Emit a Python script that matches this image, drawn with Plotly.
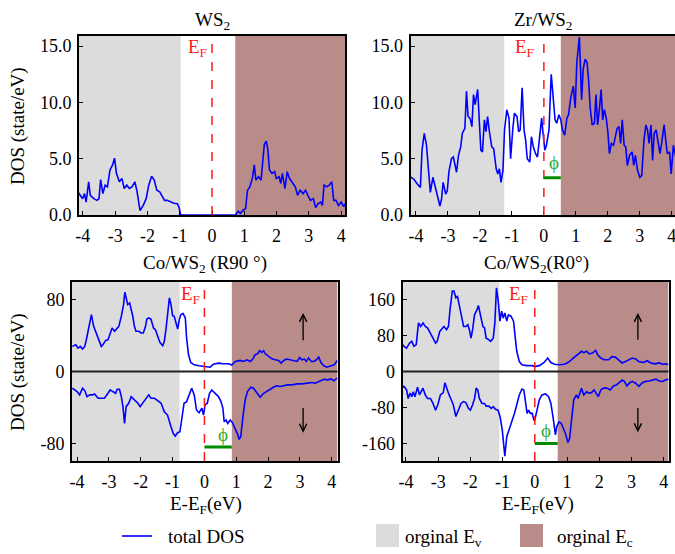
import plotly.graph_objects as go
from plotly.subplots import make_subplots

# ---------------- data ----------------
titles = ["WS<sub>2</sub>", "Zr/WS<sub>2</sub>", "Co/WS<sub>2</sub> (R90 °)", "Co/WS<sub>2</sub>(R0°)"]
x_ticks = [-4, -3, -2, -1, 0, 1, 2, 3, 4]
x_tick_labels = ["-4", "-3", "-2", "-1", "0", "1", "2", "3", "4"]
top_y_ticks = [0, 5, 10, 15]
top_y_labels = ["0.0", "5.0", "10.0", "15.0"]
r90_y_ticks = [-80, 0, 80]
r0_y_ticks = [-160, -80, 0, 80, 160]

ev_edge = [-0.97, -1.24, -0.78, -1.1]   # original valence band edge per panel
ec_edge = [0.72, 0.53, 0.86, 0.71]      # original conduction band edge per panel

ws2_x = [-4.19, -4.08, -4.01, -3.95, -3.90, -3.82, -3.77, -3.66, -3.56, -3.50, -3.45, -3.38, -3.31, -3.24,
         -3.16, -3.08, -3.02, -2.96, -2.87, -2.79, -2.72, -2.64, -2.56, -2.48, -2.39, -2.32, -2.23, -2.13,
         -2.04, -1.96, -1.87, -1.79, -1.71, -1.62, -1.55, -1.47, -1.39, -1.28, -1.18, -1.07, -1.02, -0.97,
         0.73, 0.81, 0.88, 0.97, 1.04, 1.10, 1.17, 1.25, 1.31, 1.36, 1.44, 1.52, 1.57, 1.62, 1.68, 1.73,
         1.78, 1.86, 1.94, 1.99, 2.08, 2.13, 2.18, 2.26, 2.33, 2.40, 2.47, 2.58, 2.65, 2.73, 2.82, 2.90,
         2.97, 3.05, 3.14, 3.21, 3.28, 3.37, 3.42, 3.47, 3.56, 3.63, 3.71, 3.77, 3.84, 3.92, 4.00, 4.08, 4.16]
ws2_dos = [2.2, 1.75, 1.45, 1.9, 1.15, 2.95, 1.75, 1.45, 1.3, 1.45, 3.15, 1.9, 2.65, 2.5,
           4.0, 4.45, 5.05, 3.7, 2.95, 3.25, 2.35, 2.65, 2.35, 2.5, 2.95, 2.05, 0.4, 0.85,
           1.45, 2.65, 3.45, 3.1, 2.2, 2.05, 1.75, 1.3, 1.3, 1.15, 1.05, 1.0, 0.65, 0.0,
           0.0, 0.33, 0.15, 0.45, 0.55, 2.2, 2.5, 3.25, 4.45, 3.1, 3.4, 3.1, 4.6, 6.25, 6.55, 5.8,
           4.0, 3.7, 3.85, 3.25, 3.4, 2.8, 3.7, 2.35, 3.85, 3.25, 2.95, 2.5, 1.75, 2.2, 1.9, 2.2,
           1.75, 1.3, 1.45, 0.65, 1.0, 1.15, 0.85, 2.65, 2.5, 2.65, 2.95, 1.3, 1.3, 0.85, 1.15, 0.75, 1.15]

zr_x = [-4.18, -4.07, -3.97, -3.86, -3.81, -3.74, -3.67, -3.60, -3.55, -3.47, -3.39, -3.34, -3.25, -3.20,
        -3.15, -3.07, -3.02, -2.97, -2.89, -2.83, -2.78, -2.73, -2.67, -2.60, -2.55, -2.47, -2.42, -2.37,
        -2.31, -2.25, -2.20, -2.15, -2.07, -2.02, -1.97, -1.92, -1.86, -1.81, -1.76, -1.71, -1.63, -1.57,
        -1.49, -1.44, -1.39, -1.34, -1.28, -1.23, -1.16, -1.09, -1.04, -0.97, -0.92, -0.84, -0.79, -0.74,
        -0.68, -0.62, -0.57, -0.52, -0.44, -0.39, -0.33, -0.26, -0.20, -0.13, -0.07, -0.03, 0.03, 0.08,
        0.16, 0.23, 0.28, 0.35, 0.40, 0.47, 0.53, 0.58, 0.65, 0.72, 0.77, 0.84, 0.92, 0.98, 1.03, 1.11,
        1.18, 1.23, 1.29, 1.35, 1.40, 1.45, 1.51, 1.58, 1.63, 1.68, 1.74, 1.79, 1.84, 1.89, 1.95, 2.00,
        2.05, 2.11, 2.18, 2.24, 2.29, 2.35, 2.40, 2.45, 2.51, 2.56, 2.61, 2.68, 2.76, 2.81, 2.86, 2.93,
        3.00, 3.06, 3.13, 3.19, 3.24, 3.29, 3.35, 3.40, 3.45, 3.51, 3.58, 3.63, 3.68, 3.76, 3.81, 3.86,
        3.93, 3.98, 4.05, 4.10, 4.15]
zr_dos = [3.4, 3.2, 2.8, 2.45, 5.75, 7.25, 6.2, 3.95, 2.0, 3.35, 2.45, 1.65, 0.8, 1.4,
          2.9, 1.85, 2.15, 3.8, 5.0, 5.15, 4.55, 3.8, 5.3, 6.05, 7.25, 7.7, 11.0, 8.75,
          8.6, 7.85, 10.7, 9.8, 11.15, 8.3, 5.75, 5.6, 8.45, 7.4, 8.75, 7.55, 6.05, 5.9,
          4.1, 3.65, 4.1, 2.9, 3.95, 7.55, 9.35, 8.6, 5.0, 7.7, 9.05, 8.75, 7.4, 7.55,
          11.3, 7.55, 6.65, 5.0, 4.7, 6.95, 6.05, 5.45, 5.15, 7.0, 8.6, 7.4, 5.75, 6.2,
          7.55, 12.5, 10.55, 8.45, 8.15, 8.9, 8.45, 7.55, 7.1, 8.6, 8.9, 10.4, 11.45, 9.5, 13.55, 15.8,
          10.25, 12.95, 13.85, 13.55, 11.9, 9.5, 8.0, 8.15, 10.7, 8.0, 9.5, 11.15, 8.45, 9.35, 8.6, 7.4,
          5.45, 6.35, 6.2, 6.95, 7.7, 7.85, 6.35, 8.45, 6.2, 6.05, 4.4, 5.3, 5.6, 4.4, 5.3, 3.95,
          3.35, 3.5, 6.65, 8.0, 7.55, 6.35, 8.0, 4.85, 7.25, 7.55, 6.05, 5.45, 6.35, 8.0, 6.65, 5.45,
          5.6, 3.65, 6.2, 5.45, 4.8]

r90_x_up = [-4.15, -4.04, -3.97, -3.90, -3.83, -3.76, -3.71, -3.63, -3.55, -3.48, -3.40, -3.31, -3.24, -3.19,
            -3.10, -3.03, -2.96, -2.90, -2.82, -2.77, -2.69, -2.61, -2.54, -2.50, -2.46, -2.41, -2.35, -2.30,
            -2.25, -2.20, -2.15, -2.06, -1.99, -1.92, -1.85, -1.81, -1.75, -1.68, -1.60, -1.54, -1.47, -1.40,
            -1.31, -1.26, -1.21, -1.16, -1.10, -1.05, -1.00, -0.95, -0.90, -0.84, -0.79, -0.74, -0.67, -0.60,
            -0.56, -0.50, -0.43, -0.32, -0.17, -0.02, 0.18, 0.28, 0.44, 0.60, 0.76, 0.86, 0.97, 1.12, 1.23,
            1.33, 1.44, 1.52, 1.59, 1.67, 1.73, 1.80, 1.86, 1.91, 2.01, 2.12, 2.22, 2.33, 2.41, 2.49, 2.59,
            2.70, 2.80, 2.91, 2.99, 3.06, 3.14, 3.20, 3.27, 3.36, 3.43, 3.52, 3.59, 3.66, 3.75, 3.85, 3.98,
            4.08, 4.17]
r90_up = [27.9, 29.8, 26.0, 27.9, 24.9, 27.9, 35.3, 50.2, 63.3, 50.2, 42.8, 33.5, 27.9, 29.8,
          34.6, 35.3, 42.8, 48.4, 44.7, 46.5, 50.2, 61.4, 74.4, 88.2, 80.0, 74.4, 76.3, 68.8,
          61.4, 50.2, 44.7, 44.7, 42.8, 42.8, 50.2, 58.4, 59.5, 58.4, 48.4, 46.5, 39.1, 32.4,
          28.7, 33.5, 46.5, 65.1, 81.9, 74.4, 62.1, 61.4, 54.0, 47.3, 57.7, 63.3, 64.4, 59.5,
          37.2, 18.6, 10.0, 7.4, 6.3, 5.6, 4.8, 8.2, 9.3, 8.6, 8.6, 7.1, 11.2, 12.3, 11.2,
          13.0, 11.2, 13.8, 18.6, 19.7, 23.1, 21.2, 23.1, 19.7, 16.7, 14.1, 13.0, 12.3, 9.3, 12.3, 13.8,
          13.0, 11.9, 11.2, 15.6, 13.0, 13.8, 11.2, 14.9, 11.2, 11.2, 13.0, 16.0, 10.0, 6.3, 4.8, 6.3,
          7.4, 12.3]
r90_x_dn = [-4.15, -4.07, -4.00, -3.92, -3.83, -3.76, -3.69, -3.60, -3.52, -3.45, -3.34, -3.24, -3.14, -3.03,
            -2.96, -2.88, -2.79, -2.74, -2.67, -2.61, -2.56, -2.51, -2.46, -2.38, -2.30, -2.20, -2.09, -2.02,
            -1.94, -1.83, -1.75, -1.68, -1.57, -1.47, -1.36, -1.26, -1.16, -1.05, -0.98, -0.92, -0.84, -0.77,
            -0.69, -0.64, -0.56, -0.48, -0.40, -0.32, -0.25, -0.17, -0.08, -0.03, 0.02, 0.09, 0.16, 0.23,
            0.34, 0.44, 0.52, 0.58, 0.62, 0.68, 0.73, 0.81, 0.88, 0.97, 1.04, 1.09, 1.14, 1.21, 1.28, 1.35,
            1.46, 1.54, 1.65, 1.75, 1.86, 1.96, 2.07, 2.17, 2.26, 2.38, 2.49, 2.61, 2.75, 2.91, 3.06, 3.22,
            3.38, 3.48, 3.59, 3.75, 3.87, 3.98, 4.06, 4.17]
r90_dn = [-18.6, -20.5, -22.3, -26.0, -18.6, -21.2, -27.9, -26.0, -26.0, -24.9, -29.8, -29.8, -29.8, -24.2,
          -20.5, -22.3, -24.2, -19.7, -19.7, -27.9, -39.1, -57.7, -39.1, -35.3, -27.9, -31.6, -35.3, -39.1,
          -35.3, -29.8, -26.0, -29.8, -29.8, -32.4, -35.3, -44.7, -48.4, -61.4, -68.8, -71.8, -68.1, -67.0,
          -46.5, -35.3, -33.5, -26.0, -18.6, -26.0, -42.8, -45.8, -40.9, -48.4, -37.2, -35.3, -24.2, -20.5,
          -24.2, -27.9, -33.5, -40.9, -55.8, -54.0, -57.7, -54.0, -56.9, -63.3, -69.6, -75.5, -72.6, -50.2, -31.6, -22.3,
          -17.5, -18.6, -24.2, -28.7, -24.2, -21.6, -19.7, -17.5, -16.0, -16.7, -16.0, -14.9, -14.9, -13.8, -13.8, -13.0,
          -12.3, -13.0, -11.2, -8.6, -9.3, -8.2, -10.4, -7.4]

r0_x_up = [-4.21, -4.14, -4.06, -3.98, -3.89, -3.82, -3.75, -3.68, -3.61, -3.54, -3.47, -3.40, -3.33, -3.24,
           -3.16, -3.08, -3.03, -2.95, -2.87, -2.82, -2.74, -2.68, -2.63, -2.56, -2.51, -2.45, -2.40, -2.35,
           -2.27, -2.21, -2.14, -2.08, -2.03, -1.98, -1.93, -1.87, -1.79, -1.75, -1.68, -1.61, -1.56, -1.51,
           -1.43, -1.37, -1.29, -1.24, -1.19, -1.14, -1.08, -1.03, -0.98, -0.93, -0.87, -0.82, -0.74, -0.66,
           -0.61, -0.56, -0.48, -0.40, -0.25, -0.08, 0.00, 0.14, 0.29, 0.40, 0.50, 0.61, 0.77, 0.92, 1.03,
           1.13, 1.24, 1.34, 1.45, 1.52, 1.61, 1.69, 1.79, 1.89, 1.95, 2.05, 2.15, 2.29, 2.39, 2.50, 2.60,
           2.71, 2.81, 2.94, 3.02, 3.13, 3.23, 3.37, 3.49, 3.60, 3.73, 3.86, 3.97, 4.07, 4.16]
r0_up = [67, 63, 56, 52, 63, 67, 56, 60, 108, 100, 108, 100, 97, 86,
         74, 63, 67, 89, 97, 100, 93, 100, 138, 179, 179, 164, 167, 149,
         123, 100, 100, 104, 93, 74, 93, 126, 138, 147, 123, 100, 97, 74,
         71, 67, 74, 108, 186, 160, 112, 134, 119, 130, 112, 126, 123, 112,
         78, 45, 22, 15, 13, 13, 11, 13, 20, 30, 20, 16, 15, 16, 20,
         26, 32, 37, 45, 42, 45, 39, 41, 47, 37, 30, 26, 26, 33, 32, 26,
         19, 22, 26, 30, 28, 22, 20, 24, 19, 17, 19, 16, 17, 15]
r0_x_dn = [-4.21, -4.14, -4.06, -3.98, -3.93, -3.87, -3.82, -3.77, -3.72, -3.64, -3.58, -3.54, -3.47, -3.40,
           -3.33, -3.24, -3.16, -3.08, -3.01, -2.93, -2.84, -2.79, -2.72, -2.66, -2.61, -2.53, -2.45, -2.38,
           -2.29, -2.21, -2.14, -2.06, -2.00, -1.93, -1.87, -1.82, -1.77, -1.72, -1.64, -1.56, -1.51, -1.43,
           -1.35, -1.29, -1.22, -1.14, -1.08, -1.01, -0.96, -0.93, -0.87, -0.80, -0.72, -0.63, -0.56, -0.48,
           -0.40, -0.34, -0.29, -0.24, -0.19, -0.14, -0.08, -0.03, 0.00, 0.05, 0.14, 0.22, 0.33, 0.43, 0.50,
           0.58, 0.64, 0.68, 0.75, 0.82, 0.87, 0.95, 1.03, 1.08, 1.13, 1.21, 1.29, 1.34, 1.40, 1.45, 1.52,
           1.61, 1.69, 1.76, 1.84, 1.92, 1.97, 2.05, 2.13, 2.24, 2.34, 2.44, 2.53, 2.60, 2.71, 2.78, 2.86,
           2.95, 3.02, 3.13, 3.23, 3.34, 3.44, 3.55, 3.65, 3.76, 3.86, 3.97, 4.05, 4.16]
r0_dn = [-33, -37, -33, -41, -60, -48, -56, -45, -56, -35, -52, -45, -37, -52,
         -60, -60, -71, -86, -74, -52, -47, -25, -41, -52, -60, -74, -100, -86,
         -71, -67, -69, -82, -86, -74, -60, -37, -41, -60, -71, -71, -77, -77,
         -82, -78, -84, -86, -100, -130, -160, -188, -145, -130, -115, -93, -74, -52,
         -39, -41, -67, -93, -86, -93, -93, -108, -108, -93, -63, -52, -50, -56, -71,
         -108, -141, -123, -112, -115, -123, -138, -158, -149, -115, -63, -52, -60, -48, -37, -52,
         -45, -48, -47, -41, -52, -56, -41, -37, -37, -41, -32, -30, -26, -19, -22, -32,
         -25, -22, -26, -33, -25, -22, -21, -19, -17, -21, -22, -19, -17]

# ---------------- styling ----------------
FONT = "Liberation Serif"
BLUE = "#0000ff"
GREY = "#dcdcdc"
BROWN = "#b98c8a"
RED = "#ff1a1a"
GREEN = "#008c00"
PHI_GREEN = "#2fa82f"

W, H = 675, 554

def px_dom(a, b, total):
    return [a / total, b / total]

def py_dom(top, bottom):
    return [1 - bottom / H, 1 - top / H]

x_domains = [px_dom(79, 345, W), px_dom(410.5, 675, W), px_dom(72, 337.5, W), px_dom(402.7, 668.5, W)]
y_domains = [py_dom(36, 215), py_dom(36, 215), py_dom(282, 461), py_dom(282, 461)]
x_ranges = [[-4.12, 4.12], [-4.17, 4.1], [-4.16, 4.18], [-4.1, 4.15]]
y_ranges = [[0, 15.9], [0, 15.9], [-99.5, 99.5], [-199, 199]]

fig = make_subplots(rows=2, cols=2)

series = [
    [(ws2_x, ws2_dos)],
    [(zr_x, zr_dos)],
    [(r90_x_up, r90_up), (r90_x_dn, r90_dn)],
    [(r0_x_up, r0_up), (r0_x_dn, r0_dn)],
]
pos = [(1, 1), (1, 2), (2, 1), (2, 2)]
for i, (r, c) in enumerate(pos):
    for xs, ys in series[i]:
        fig.add_trace(go.Scatter(x=xs, y=ys, mode="lines", line=dict(color=BLUE, width=1.6),
                                 showlegend=False, hoverinfo="skip"), row=r, col=c)

axis_common = dict(showline=True, linecolor="black", linewidth=2, mirror=True, ticks="inside",
                   ticklen=4, tickwidth=1.2, tickcolor="black", showgrid=False, zeroline=False,
                   automargin=False, ticklabeloverflow="allow",
                   tickfont=dict(family=FONT, size=18, color="black"))

y_tick_sets = [(top_y_ticks, top_y_labels), (top_y_ticks, top_y_labels),
               (r90_y_ticks, [str(v) for v in r90_y_ticks]), (r0_y_ticks, [str(v) for v in r0_y_ticks])]

for i in range(4):
    xa = "xaxis" if i == 0 else f"xaxis{i+1}"
    ya = "yaxis" if i == 0 else f"yaxis{i+1}"
    fig.layout[xa].update(domain=x_domains[i], range=x_ranges[i], tickvals=x_ticks,
                          ticktext=x_tick_labels, ticklabelstandoff=3, **axis_common)
    fig.layout[ya].update(domain=y_domains[i], range=y_ranges[i], tickvals=y_tick_sets[i][0],
                          ticktext=y_tick_sets[i][1], ticklabelstandoff=2, **axis_common)

shapes = []
annotations = []
ef_label_pos = [(-0.46, 14.8), (-0.62, 14.8), (-0.45, 85), (-0.5, 170)]
phi_y = [3.3, 3.3, -84, -160]
phi_label = [None, (0.32, 4.7), (0.57, -70), (0.35, -132)]
arrow_spec = [None, None, (3.1, 33, 65, -39, -68), (3.2, 67, 130, -78, -135)]

for i in range(4):
    xr = "x" if i == 0 else f"x{i+1}"
    yr = "y" if i == 0 else f"y{i+1}"
    bottom_ext = -0.012 if i < 2 else 0
    # valence / conduction regions
    shapes.append(dict(type="rect", xref=xr, yref=f"{yr} domain", x0=x_ranges[i][0], x1=ev_edge[i],
                       y0=0, y1=1, fillcolor=GREY, line_width=0, layer="below"))
    shapes.append(dict(type="rect", xref=xr, yref=f"{yr} domain", x0=ec_edge[i], x1=x_ranges[i][1],
                       y0=bottom_ext, y1=1, fillcolor=BROWN, line_width=0, layer="below"))
    # Fermi level
    shapes.append(dict(type="line", xref=xr, yref=f"{yr} domain", x0=0, x1=0, y0=0, y1=1,
                       line=dict(color=RED, width=1.5, dash="dash")))
    annotations.append(dict(xref=xr, yref=yr, x=ef_label_pos[i][0], y=ef_label_pos[i][1],
                            text="E<sub>F</sub>", showarrow=False,
                            font=dict(family=FONT, size=19, color=RED)))
    if i >= 2:
        shapes.append(dict(type="line", xref=f"{xr} domain", yref=yr, x0=0, x1=1, y0=0, y1=0,
                           line=dict(color="#222222", width=1.8)))
    if i >= 1:
        shapes.append(dict(type="line", xref=xr, yref=yr, x0=0, x1=ec_edge[i], y0=phi_y[i], y1=phi_y[i],
                           line=dict(color=GREEN, width=3)))
        annotations.append(dict(xref=xr, yref=yr, x=phi_label[i][0], y=phi_label[i][1], text="ϕ",
                                showarrow=False, font=dict(family=FONT, size=19, color=PHI_GREEN)))
    if arrow_spec[i]:
        ax_, u0, u1, d0, d1 = arrow_spec[i]
        for y0, y1 in [(u0, u1), (d0, d1)]:
            annotations.append(dict(xref=xr, yref=yr, axref=xr, ayref=yr, x=ax_, y=y1, ax=ax_, ay=y0,
                                    text="", showarrow=True, arrowhead=5, arrowsize=1.1,
                                    arrowwidth=1.3, arrowcolor="black"))

# titles
title_pos = [(212, 21), (543, 21), (205, 264), (536, 264)]
for t, (px, py) in zip(titles, title_pos):
    annotations.append(dict(xref="paper", yref="paper", x=px / W, y=1 - py / H, text=t, showarrow=False,
                            font=dict(family=FONT, size=19, color="black"), xanchor="center", yanchor="middle"))

# axis titles
for py in [126, 372]:
    annotations.append(dict(xref="paper", yref="paper", x=18 / W, y=1 - py / H, text="DOS (state/eV)",
                            textangle=-90, showarrow=False, xanchor="center", yanchor="middle",
                            font=dict(family=FONT, size=19, color="black")))
for px in [206, 538]:
    annotations.append(dict(xref="paper", yref="paper", x=px / W, y=1 - 491 / H, text="E-E<sub>F</sub>(eV)",
                            showarrow=False, xanchor="center", yanchor="top",
                            font=dict(family=FONT, size=19, color="black")))

# legend (drawn manually)
shapes.append(dict(type="line", xref="paper", yref="paper", x0=122 / W, x1=152 / W,
                   y0=1 - 536 / H, y1=1 - 536 / H, line=dict(color="#3030ff", width=2)))
annotations.append(dict(xref="paper", yref="paper", x=166 / W, y=1 - 536 / H, text="total DOS",
                        showarrow=False, xanchor="left", yanchor="middle",
                        font=dict(family=FONT, size=19, color="black")))
shapes.append(dict(type="rect", xref="paper", yref="paper", x0=376 / W, x1=399 / W,
                   y0=1 - 547 / H, y1=1 - 524 / H, fillcolor=GREY, line_width=0))
annotations.append(dict(xref="paper", yref="paper", x=403 / W, y=1 - 538 / H, text="orginal E<sub>v</sub>",
                        showarrow=False, xanchor="left", yanchor="middle",
                        font=dict(family=FONT, size=19, color="black")))
shapes.append(dict(type="rect", xref="paper", yref="paper", x0=520 / W, x1=543 / W,
                   y0=1 - 547 / H, y1=1 - 524 / H, fillcolor=BROWN, line_width=0))
annotations.append(dict(xref="paper", yref="paper", x=555 / W, y=1 - 538 / H, text="orginal E<sub>c</sub>",
                        showarrow=False, xanchor="left", yanchor="middle",
                        font=dict(family=FONT, size=19, color="black")))

fig.update_layout(width=W, height=H, margin=dict(l=0, r=0, t=0, b=0, autoexpand=False), plot_bgcolor="white",
                  paper_bgcolor="white", shapes=shapes, annotations=annotations, showlegend=False,
                  font=dict(family=FONT, size=18, color="black"))

fix_page = ("var s=document.createElement('style');"
            "s.textContent='html,body{margin:0!important;padding:0!important;overflow:hidden!important;}';"
            "document.head.appendChild(s);")
fig.write_html("out.html", config={"displayModeBar": False}, post_script=fix_page)
